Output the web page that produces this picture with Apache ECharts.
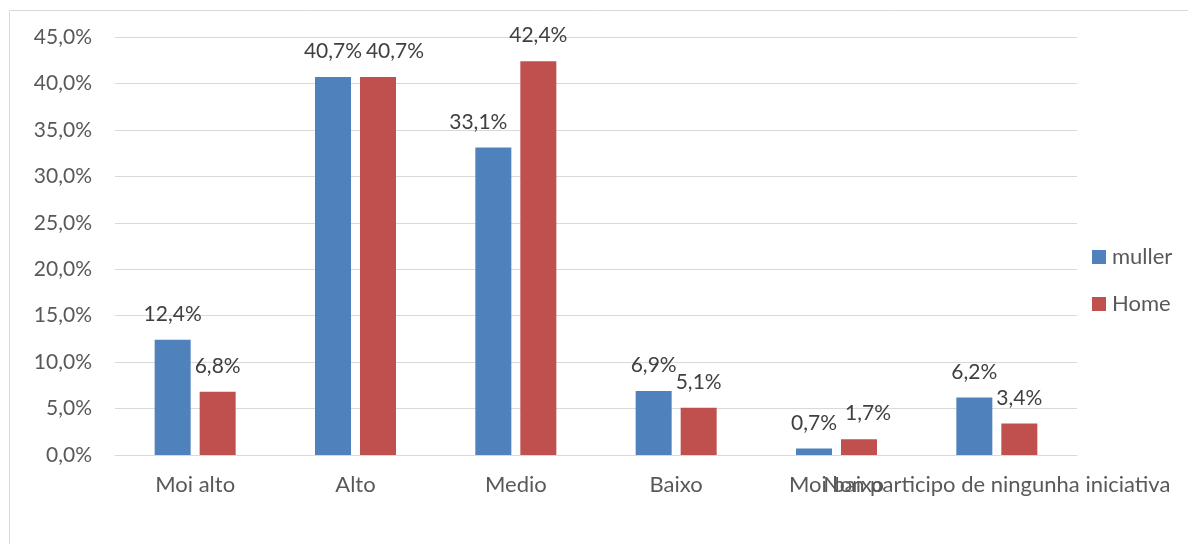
<!DOCTYPE html>
<html>
<head>
<meta charset="utf-8">
<script src="https://cdn.jsdelivr.net/npm/echarts@6/dist/echarts.min.js"></script>
<style>
  html, body { margin: 0; padding: 0; background: #fff; }
  #chart { width: 1188px; height: 544px; }
</style>
</head>
<body>
<div id="chart"></div>
<script>
// data
let categories = ['Moi alto', 'Alto', 'Medio', 'Baixo', 'Moi baixo', 'Non participo de ningunha iniciativa'];
let muller = [12.4, 40.7, 33.1, 6.9, 0.7, 6.2];
let home = [6.8, 40.7, 42.4, 5.1, 1.7, 3.4];
let yTicks = [0, 5, 10, 15, 20, 25, 30, 35, 40, 45];

// small nudges so neighbouring labels do not collide (like the original)
let mullerNudge = { 2: -15 };
let homeNudge = { 1: 17, 4: 9 };

const font = 'Lato, "Open Sans", sans-serif';
const textColor = '#595959';

function fmt(v) {
    return v.toFixed(1).replace('.', ',') + '%';
}

function build(values, nudge) {
    return values.map((v, i) => {
        let item = { value: v };
        if (nudge[i] !== undefined) {
            item.label = { offset: [nudge[i], 0] };
        }
        return item;
    });
}

let chart = echarts.init(document.getElementById('chart'));

let option = {
    animation: false,
    graphic: [{
        type: 'rect',
        shape: { x: 9.5, y: 10.5, width: 1200, height: 560 },
        style: { fill: 'none', stroke: '#d9d9d9', lineWidth: 1 },
        silent: true
    }],
    legend: {
        orient: 'vertical',
        left: 1087,
        top: 241,
        itemWidth: 14,
        itemHeight: 14,
        itemGap: 25,
        icon: 'rect',
        textStyle: { color: textColor, fontSize: 22, lineHeight: 18, fontFamily: font, padding: [0, 0, 0, 1] }
    },
    grid: {
        left: 115,
        right: 111,
        top: 37,
        bottom: 89,
        containLabel: false
    },
    xAxis: {
        type: 'category',
        data: categories,
        axisTick: { show: false },
        axisLine: { lineStyle: { color: '#d9d9d9' } },
        axisLabel: {
            interval: 0,
            hideOverlap: false,
            color: textColor,
            fontSize: 22,
            fontFamily: font,
            margin: 19
        }
    },
    yAxis: {
        type: 'value',
        min: yTicks[0],
        max: yTicks[yTicks.length - 1],
        interval: 5,
        axisLine: { show: false },
        axisTick: { show: false },
        splitLine: { lineStyle: { color: '#d9d9d9' } },
        axisLabel: {
            color: textColor,
            fontSize: 21,
            fontFamily: font,
            margin: 23,
            formatter: v => fmt(v)
        }
    },
    series: [
        {
            name: 'muller',
            type: 'bar',
            data: build(muller, mullerNudge),
            barWidth: 36,
            barGap: '25%',
            itemStyle: { color: '#4f81bd' },
            label: {
                show: true,
                position: 'top',
                distance: 15,
                color: '#404040',
                fontSize: 21,
                fontFamily: font,
                formatter: p => fmt(p.value)
            }
        },
        {
            name: 'Home',
            type: 'bar',
            data: build(home, homeNudge),
            barWidth: 36,
            itemStyle: { color: '#c0504d' },
            label: {
                show: true,
                position: 'top',
                distance: 15,
                color: '#404040',
                fontSize: 21,
                fontFamily: font,
                formatter: p => fmt(p.value)
            }
        }
    ]
};

chart.setOption(option);
</script>
</body>
</html>
